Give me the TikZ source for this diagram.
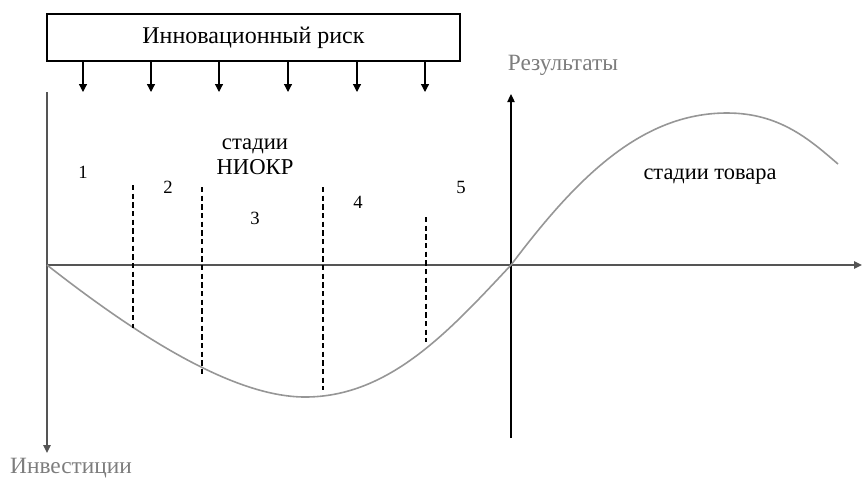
\documentclass[tikz,border=0pt]{standalone}
\usepackage{fontspec}
\setmainfont{Liberation Serif}
\usetikzlibrary{arrows.meta}
\definecolor{curvegray}{RGB}{150,150,150}
\definecolor{axisgray}{RGB}{85,85,85}
\definecolor{labelgray}{RGB}{125,125,125}

\begin{document}
\begin{tikzpicture}[x=0.75pt,y=-0.75pt,
  riskarrow/.style={-{Triangle[length=6pt,width=6pt]}, line width=0.9pt},
  axisarrow/.style={-{Triangle[length=6pt,width=5.5pt]}, line width=1.1pt},
  stagesep/.style={dashed, line width=0.9pt, dash pattern=on 4pt off 2.5pt},
  num/.style={font=\fontsize{14}{16}\selectfont}]
 \useasboundingbox (0,0) rectangle (862,480);
 % risk box
 \node (risk) [draw, line width=0.9pt, minimum width=413*0.75pt, minimum height=47*0.75pt,
   inner sep=0pt, font=\fontsize{18}{20}\selectfont] at (253.5,37.5) {Инновационный риск};
 \begin{scope}
  \coordinate (r1) at (83,61);  \coordinate (s1) at (83,92);
  \coordinate (r2) at (151,61); \coordinate (s2) at (151,92);
  \coordinate (r3) at (219,61); \coordinate (s3) at (219,92);
  \coordinate (r4) at (288,61); \coordinate (s4) at (288,92);
  \coordinate (r5) at (357,61); \coordinate (s5) at (357,92);
  \coordinate (r6) at (425,61); \coordinate (s6) at (425,92);
 \end{scope}
 \draw [riskarrow] (r1) -- (s1);
 \draw [riskarrow] (r2) -- (s2);
 \draw [riskarrow] (r3) -- (s3);
 \draw [riskarrow] (r4) -- (s4);
 \draw [riskarrow] (r5) -- (s5);
 \draw [riskarrow] (r6) -- (s6);
 % axes
 \coordinate (O) at (47,265);
 \coordinate (Otop) at (47,92);
 \coordinate (Obot) at (47,453);
 \coordinate (xend) at (862,265);
 \coordinate (P) at (511,265);
 \coordinate (Pbot) at (511,438);
 \coordinate (Ptop) at (511,94);
 \draw [axisarrow, axisgray] (Otop) -- (Obot);
 \draw [axisarrow, axisgray] (O) -- (xend);
 \draw [axisarrow, black, line width=0.9pt] (Pbot) -- (Ptop);
 \node (invest) [text=labelgray, font=\fontsize{17.5}{19}\selectfont] at (71,468) {Инвестиции};
 \node (result) [text=labelgray, font=\fontsize{17.5}{19}\selectfont] at (563,65) {Результаты};
 % curve
 \draw [curvegray, line width=1.2pt] (O) .. controls (130,330) and (230,397) .. (305,397)
   .. controls (390,397) and (450,330) .. (P)
   .. controls (575,180) and (640,113) .. (727,113)
   .. controls (780,113) and (810,140) .. (838,164);
 % stage borders
 \coordinate (d1a) at (133,185); \coordinate (d1b) at (133,328);
 \coordinate (d2a) at (202,187); \coordinate (d2b) at (202,375);
 \coordinate (d3a) at (323,187); \coordinate (d3b) at (323,390);
 \coordinate (d4a) at (426,217); \coordinate (d4b) at (426,342);
 \draw [stagesep] (d1a) -- (d1b);
 \draw [stagesep] (d2a) -- (d2b);
 \draw [stagesep] (d3a) -- (d3b);
 \draw [stagesep] (d4a) -- (d4b);
 % labels
 \node (st1) [num] at (83,172) {1};
 \node (st2) [num] at (168,187) {2};
 \node (st3) [num] at (255,218) {3};
 \node (st4) [num] at (358,202) {4};
 \node (st5) [num] at (461,187) {5};
 \node (niokr) [align=center, font=\fontsize{17}{19}\selectfont, inner sep=0pt] at (255,157)
   {стадии\\НИОКР};
 \node (goods) [font=\fontsize{16.8}{18}\selectfont] at (710,177) {стадии товара};
\end{tikzpicture}
\end{document}
